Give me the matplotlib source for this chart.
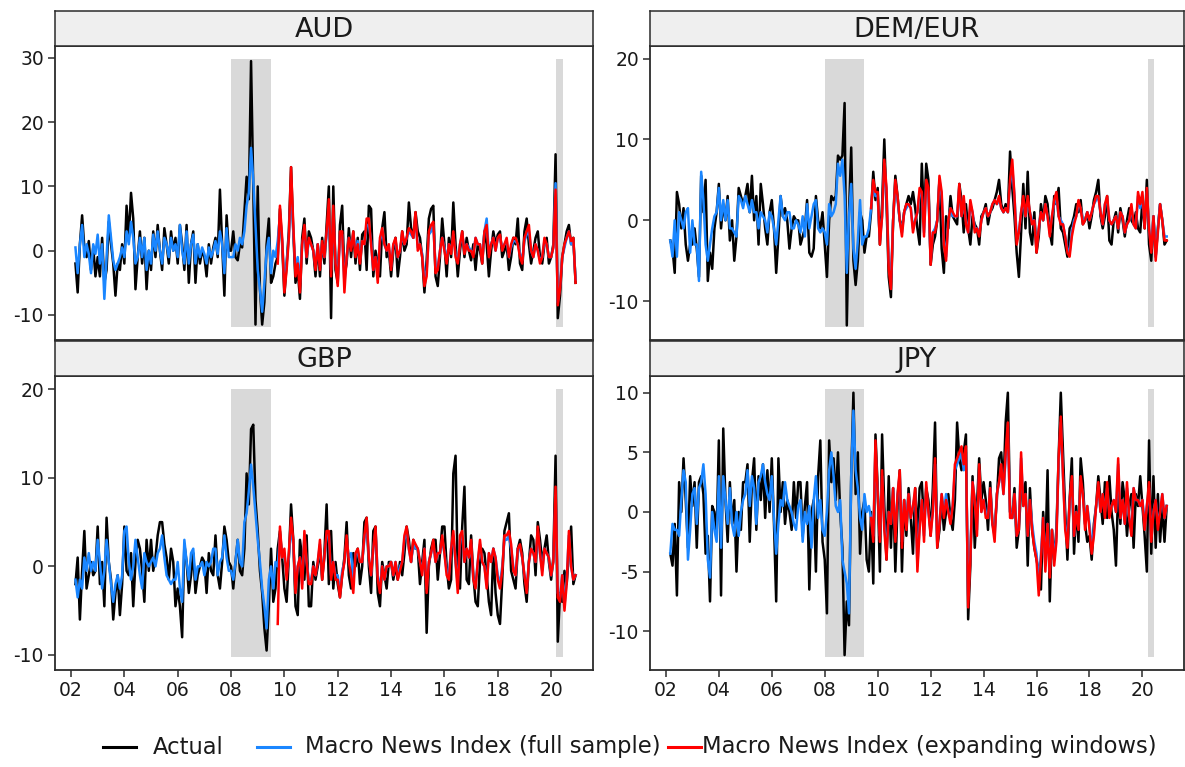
import numpy as np
import pandas as pd
import matplotlib
matplotlib.use("Agg")
import matplotlib.pyplot as plt
from matplotlib.lines import Line2D

plt.rcParams["font.family"] = ["DejaVu Sans"]
plt.rcParams["axes.unicode_minus"] = False

# monthly observations, Mar 2002 - Dec 2020
dates = pd.date_range("2002-03-01", "2020-12-01", freq="MS")
years = np.asarray(dates.year + (dates.month - 1) / 12.0)
exp_from = int(np.where(dates == pd.Timestamp("2009-10-01"))[0][0])

# recession bands (decimal years)
recessions = [(2008.0, 2009.5), (2020.2, 2020.45)]

# ---- AUD ----
aud_actual = [
    -2, -6.5, 1, 5.5, 0.5, -1, 1.5, -3, 0.5, -4,
    -1, -4, 2, -5, -3, 4.5, 1, -2, -7, -2, -3, 1,
    -2, 7, 2, 9, 5, -6, -1, 3, -2, 2, -6, 0,
    -3, 3, -1, 4, 0, -3, 3.5, 1, -2, 3, 0, 2,
    -2, 4, 1, -3, 4, -5, 1, 3, -5, 1, -2, 0,
    -1, -4, 1, -2, 0.5, 2, -1, 9.5, 1, -7, 5.5, 0,
    0, 3, -1, -1.5, 1, 0.5, 6, 11.5, 8, 29.5, 10, -11.5,
    10, -6, -11.5, -8, 1, 5, -5, -4, -2, -1, 6.5, 1,
    -7, -2, 3, 13, 3, -5, -3, -7.5, 2, 5, -2, 3,
    2, 0, -4, 1, -4, 2, -2, 4, 10, -10.5, 10, -3,
    -5, 4, 7, -4, -2, 3.5, -1, 3, -2, 2, -3, 2.5,
    3, -3, 7, 6.5, -4, 0, -2, -4, 3.5, 6, -1, 0,
    -4, 0, 2, -4, -1, 3, 0, 1, 7.5, 3.5, 2, 6,
    3, 2, -1, -6.5, -1.5, 5, 6.5, 7, -4, -5.5, -1, 5,
    1, -4, 2, -1, 7.5, 1, -4, 0, 3, -1, 2, 0,
    -1.5, 1, -3, 1, 0, -2, 3, 1, -4, 0, 3, 1,
    2.5, 3, -1, 0, 1, -3, -1, 2, 1, 5, -2, -3,
    3, 5, 1, -2, 0, 2, 3, -1, -2, 1, 2, -2,
    -1, 1, 15, -10.5, -7, -1, 1, 3, 4, 1, 2, -5,
]
aud_full = [
    0.5, -3.5, 1, 4, -1, 1, -0.5, -3.5, 1, -0.5,
    2.5, -2, 1, -7.5, -1, 5.5, 2, -1.5, -3, -2, -1, 0.5,
    -1, 3, 1, 4.5, 2, -2, -1, 2, -1, 2, -3, 0,
    -2, 2.5, 0, 3, 0, -2, 2, 1, -1, 2, 0, 1,
    -1, 4, 0, -2, 3, -2, 1, 2.5, -2, 1, -1, 0.5,
    -0.5, -2, 0.5, -1, 0, 1.5, -0.5, 3, 1, -3.5, 3.5, -1,
    -1, -1, 1, 0, 2, 1, 3, 7, 9, 16, 11, 4,
    -3, -6, -9.5, -5, 0, 2, -3.5, 0, -1, 1.5, 5.5, 1.5,
    -5, -2, 2, 10, 3, -3, -1, -5, 1, 3, -1, 1.5,
    1, 0, -2.5, 1, -2.5, 1, -1, 2.5, 6, -3, 5, -1.5,
    -4.5, 2.5, 2.5, -5, -1, 2, 0.5, 2.5, 0, 1.5, -1.5, 1.5,
    1, 4, 4, 1.5, -3, -1, -4, 1.5, 3, 1, 0, 0.5,
    -2.5, 1, 1.5, -1, 0, 2.5, 1, 2, 3, 2.5, 2, 5,
    0.5, 1, -0.5, -4.5, -3, 2.5, 3, 4, -2.5, -2.5, 0, 2,
    0.5, -1.5, 1, 0, 2.5, -0.5, -1.5, 1, 2.5, 0, 1, 0.5,
    0, -0.5, 2, 1, 1, -1.5, 3, 5, -0.5, 1, 2, 0,
    2, 2, 0.5, 1, 1.5, -1, 0.5, 1.5, 1.5, 1, -0.5, -1.5,
    1.5, 2.5, 3, 0, -1, 1, 0, -1.5, -1, 1.5, 1, -1,
    -1, 0.5, 10.5, -8, -5.5, -1, 0.5, 2, 3, 1, 1.5, -4.5,
]
aud_expanding = [
    -2, 7, 2,
    -6.5, -3, 2, 13, 4, -4, -2, -6.5, 1, 4, -1, 2,
    1, 0, -3, 1, -3, 1.5, -1, 3, 8, -4, 7, -2,
    -5.5, 3, 3, -6.5, -1, 2, 0, 3, -1, 1, -2, 1.5,
    1, 5, 5, 1, -3, -1, -5, 2, 3.5, 1, 0, 1,
    -3, 1, 2, -1, 0, 3, 1, 2, 3.5, 3, 2, 6,
    0, 1, -1, -5.5, -4, 3, 4, 4.5, -3.5, -3, 0, 2,
    0, -2, 1, -0.5, 3, -1, -2, 1, 3, -0.5, 1, 0,
    0, -1, 2, 1, 1, -2, 3, 4, -1, 1, 2, 0,
    2, 2.5, 0, 1, 2, -1, 1, 2, 2, 1, -1, -2,
    2, 3, 4, 0, -1, 1, 0, -2, -1, 2, 1, -1,
    -1, 0.5, 9.5, -8.5, -6, -1, 1, 2, 3, 1.5, 2, -5,
]

# ---- DEM/EUR ----
eur_actual = [
    -2.5, -3.5, -6.5, 3.5, 2, -1, 1.5, -3, -5, -3,
    -3, -1, -3.5, -7, 5.5, 1, 5, -7.5, -4, -6, -1, 1,
    4.5, -1, 2, 0, 3, -2.5, 0, -5, -2, 4, 3, 2,
    3, 4.5, 1, 5.5, 0, 3, -3, 4.5, 2, -1, -3, 1,
    2.5, -1, -6.5, -2, 3, 0.5, 1.5, 0, -3.5, -1, 0.5, 0,
    0, -3, -2, -1, 2.5, -4, -4.5, -3.5, 3, 0, -1, 1,
    -3, -7, 0, 3, 2.5, 3, 8, 7.5, 8, 14.5, -13, 1,
    9, -5, -8, -5, 1, 0, -4, -2, -2, 1, 6, 2.5,
    4, -3, 2, 10, 2, -7, -9.5, 0, 5.5, 3, 0, -1,
    1, 2, 3, 2, 3.5, 1.5, -1, -3, 7, 0, 7, 5,
    -5.5, -3, -2, 0, 5, -3.5, -6.5, 0.5, -1, 3, 0.5, 0,
    -0.5, 4.5, 2.5, -1.5, 2, -1, -3, 0.5, -0.5, -1, -3, 0.5,
    1, 2, -0.5, 1, 1.5, 2.5, 3.5, 5, 2, 1, 2, 1,
    8.5, 4, 0.5, -4, -7, -1.5, 4.5, -1, 6, -1.5, -3, 1,
    -4, -2, 2, 0, 3, 2, -1.5, -3, 3, 2, 4, -1,
    -1.5, -3, -4.5, -1, -0.5, 0.5, 2, 1, 2.5, -0.5, 0, 1,
    -1, 0.5, 2.5, 3.5, 5, 0.5, -1, 0.5, 3, -2.5, -3, 0,
    1, -1.5, 1.5, 0, -2, 0, 1.5, 0, -0.5, 1, -1, -1.5,
    2.5, -1, 5, -3, -5, 0.5, -4.5, -1, 2, 0, -3, -2.5,
]
eur_full = [
    -2.5, -4.5, 0, -4.5, 1, 0, -1, 1, 1.5, -4,
    0, -3, -3, -7.5, 6, 2.5, -3, -5, -3, -1, 0.5, 1,
    4, 0, 2.5, 0, 2.5, -1, -1, -1.5, -2, 3, 2.5, 1.5,
    3, 2, 1, 2.5, 1, 1, -1, 1, 0.5, 0, -1.5, 1,
    0.5, -1, -3, 0, 3, 0.5, 0, 1, 1, -1, -1, 0,
    -0.5, -1.5, 0.5, -2, 2, -1, 0.5, 2, 2.5, -1, -1.5, -1,
    -1.5, -3, 2, 0.5, 1, 2, 7, 5.5, 7.5, 3, -6.5, 0.5,
    4.5, -3.5, -6, -2.5, 2.5, -3, -2, -2, -1, 1.5, 4.5, 3,
    3, -2.5, 0.5, 7, 3.5, -5, -7.5, 0, 4.5, 2.5, 0, -1.5,
    1, 1.5, 2, 1.5, -1, 0, 1, 3.5, 3, -1.5, 4.5, 3.5,
    -5, -1.5, -1, 0, 5, 3, -2.5, -4.5, 0, 1.5, 0.5, 0.5,
    0.5, 4, 0.5, 2.5, 0, -1.5, 2, 1, -1, -1, -1.5, 0,
    1, 1.5, 0.5, 1, 2, 2.5, 2, 2.5, 1.5, 1, 1.5, 1,
    4.5, 6.5, 3, -2, -1.5, 1, 2.5, 0.5, 2.5, 1, 0, 0,
    -3.5, -1, 1, 0, 2, 0.5, -1.5, 0.5, 2, 3, 0.5, 0,
    -0.5, -2, -3.5, -4, -1.5, 0, 0.5, 2, 1.5, 0, 0, 1,
    0, 1, 2, 2.5, 3, 1, -0.5, 2, 2.5, 0, -0.5, 0,
    0.5, -1, 1, 0.5, -1.5, -0.5, 0, 1.5, -0.5, -1, 3, 1.5,
    3, -0.5, 3.5, -1, -3.5, 0.5, -4.5, -1, 2, 0, -2, -2,
]
eur_expanding = [
    1.5, 5, 3.5,
    3.5, -3, 0.5, 7.5, 4, -6, -8.5, 0, 5, 3, 0, -2,
    1, 2, 2, 1.5, -1.5, 0, 1, 4, 3.5, -2, 5, 4,
    -5.5, -1.5, -1.5, 0, 5.5, 3.5, -3, -5, 0, 1.5, 1, 0.5,
    0.5, 4.5, 0.5, 3, -0.5, -1.5, 2.5, 1, -1.5, -1, -2, 0,
    1, 1.5, 0.5, 1, 2, 2.5, 2, 3, 1.5, 1, 1.5, 1,
    5, 7.5, 3, -3, -1.5, 1, 3, 0.5, 3, 1, -0.5, 0,
    -4, -1, 1, 0, 2, 0.5, -2, 0.5, 2.5, 3.5, 0.5, -0.5,
    -0.5, -2, -4, -4.5, -2, -0.5, 0.5, 2.5, 1.5, -0.5, 0, 1,
    0, 1, 2, 3, 3, 1, -0.5, 2, 3, 0, -0.5, 0,
    0.5, -1, 1, 0.5, -1.5, -0.5, 0, 2, -0.5, -1, 3.5, 2,
    3.5, -1, 4, -1, -4, 0.5, -5, -1.5, 2, 0, -2.5, -2.5,
]

# ---- GBP ----
gbp_actual = [
    -2, 1, -6, -0.5, 4, -2.5, -1, 0.5, -1, -0.5,
    4.5, -2, 0.5, -4.5, 5.5, 0.5, -1.5, -6, -3, -1, -5.5, -2,
    4.5, -0.5, -1, 1.5, -4.5, 0.5, 3, 2, -0.5, -4, 3, -0.5,
    3, -0.5, 1, 3.5, 5, 5, 2.5, 1, -1.5, 2, 0.5, -4.5,
    -2.5, -4.5, -8, 2.5, 0.5, -3, -1, 1.5, -3, -1, 0, 1,
    0.5, -3, 1.5, -0.5, -1, 3.5, -1, -2.5, 0.5, 4.5, 3, 0.5,
    0, -2.5, 0.5, 3, -0.5, -1, 2, 10.5, 7, 15.5, 16, 7.5,
    4, -0.5, -3, -7, -9.5, -4.5, 2, -4, -2.5, 2, 4, 1,
    -2.5, -4, 1, 7, 3, -4.5, -5.5, 3, 1, -1.5, 3.5, -4.5,
    -4.5, 0.5, -1.5, 0, 2, -1.5, 1.5, 7, -2, 4, -2.5, 0.5,
    -2, -3.5, -1, 1, 5, -1, -2.5, 1.5, 0, 2, -2, 0,
    5, 5.5, 0, -3, 4, 4.5, -3, -4.5, 0.5, -1, -2.5, 0.5,
    0.5, -1.5, 0, -1.5, 0.5, -1, 1.5, 4.5, 3, 0.5, 3, 2,
    2, -2, 0.5, 3, -7.5, 0, 2, 3, 3, -1.5, 1.5, 4.5,
    4.5, 0, -2.5, -1.5, 10.5, 12.5, -1, -2.5, 4.5, 9, -1.5, -2,
    3.5, -1, -4, -4.5, 0.5, 2, 1.5, -1, -4, -5.5, 2, -3,
    -5.5, -6.5, -1.5, 4, 5, 6, -0.5, -1.5, -2.5, 2, 3, 1.5,
    -2, -4, 0.5, 3.5, 3, -1, 5, 3, 0.5, 2, 3.5, 0.5,
    -1.5, 1, 12.5, -8.5, -3, -4, -0.5, -2, 1.5, 4.5, -2, -1,
]
gbp_full = [
    -1.5, -3.5, -1.5, -2.5, 1, -0.5, 1.5, -0.5, 0.5, -0.5,
    3, 0.5, -2.5, -0.5, 3, 0.5, -2, -4, -2, -1, -2.5, -1,
    4, 4.5, 0.5, -1.5, 0, 3, 1, -1, -2.5, 1.5, 0.5, 0,
    0.5, 1, 0, 1.5, 2, 3.5, 1, -1, -1.5, -2, -1.5, -1.5,
    0.5, -2.5, -4, 3, 0.5, -1.5, 1.5, 2, -1.5, 0, 0, 0.5,
    -1, 0.5, 0, 0.5, 2, 2, -1, 0.5, 1, 3.5, 1, -0.5,
    -0.5, -1.5, 0.5, 3, 0.5, 0, 5, 6, 8.5, 11.5, 9, 6,
    3, 0.5, -2.5, -4.5, -7, -1.5, 0, -2.5, 0.5, 0, 3.5, 1,
    1.5, -1, 1, 4.5, 2.5, -2.5, 0, 1, -2, 3.5, 0.5, -1.5,
    -1.5, 0, -1, 0.5, 2.5, -1, 1, 3.5, 3.5, -1, 0.5, -1,
    -1, -3, -0.5, 0.5, 3, 1, 1.5, -1.5, 1.5, 1.5, 0.5, 0.5,
    3, 5, 1, -1, 2, 4, -1, -2.5, 0, -1.5, 0, 0,
    0.5, -1, 0.5, -1, 0, 0.5, 3, 4, 2, 0.5, 2.5, 2,
    2, 0.5, -0.5, 2, -2.5, 0.5, 1.5, 2.5, 0.5, 1.5, 1.5, 3,
    1.5, -0.5, -1, 2, 3.5, 0.5, -2, 3, 3.5, 0.5, 2, 1,
    2.5, -1.5, -2, 0.5, 2.5, 0.5, 0, -2, 1.5, 0.5, 2, 1,
    -1, -2, 0, 3, 3, 3.5, 2, 0, -1, 2, 2, 1,
    -1, -2.5, 0.5, 2, 1.5, 0.5, 4, 1.5, -0.5, 2, 1.5, 1,
    -1, 0.5, 8, -3, -3.5, -1, -4.5, -1.5, 3.5, 0, -1.5, -1,
]
gbp_expanding = [
    -6.5, 4.5, 1,
    2, -1.5, 1.5, 5.5, 3, -3, 0, 1, -2.5, 4, 0.5, -2,
    -2, 0, -1, 0.5, 3, -1.5, 1, 4, 4, -1.5, 0.5, -1.5,
    -1.5, -3.5, -1, 0.5, 3.5, 0.5, -1, -3, 1.5, 2, 0.5, 0.5,
    3.5, 5.5, 1, -1, 2, 4.5, -1.5, -3, 0, -1.5, 0, 0,
    0.5, -1, 0.5, -1.5, -0.5, 0.5, 3.5, 4.5, 2, 0.5, 3, 2.5,
    2, 0.5, -1, 2, -3, 0.5, 1.5, 3, 0.5, 1.5, 1.5, 3.5,
    1.5, -1, -1.5, 2, 4, 0.5, -3, 3.5, 4, 0.5, 2, 1,
    3, -1.5, -2.5, 0.5, 3, 0.5, 0, -2.5, 1.5, 0.5, 2, 1,
    -1.5, -2.5, -0.5, 3.5, 3.5, 4, 2.5, -0.5, -1, 2, 2.5, 1,
    -1, -3, 0.5, 2, 1.5, 0.5, 4.5, 1.5, -1, 2, 1.5, 1,
    -1, 0.5, 9, -3.5, -4, -1, -5, -2, 4, 0, -1.5, -1,
]

# ---- JPY ----
jpy_actual = [
    -3.5, -4.5, -1, -7, 2.5, 0, 4.5, 1, -3, 3,
    0.5, 2.5, -3, 2.5, 3, 1.5, -3.5, -2, -7.5, 0.5, 0, -2,
    6, -7, 7, 1, -2.5, 2.5, -1, 1, -5, 0, -1.5, 2.5,
    2.5, 4, -2.5, 2.5, 4.5, -1.5, 3, 1, 4, -0.5, 3.5, 0,
    4.5, -1, -7.5, 4.5, 0, 2.5, -1, 1, 0, -1.5, 2.5, -0.5,
    2.5, 2.5, -2, 0.5, 2.5, -6.5, 0, 1, -5, 3, 6, -2.5,
    -4, -8.5, 6, 2.5, 4.5, 1, 5, 0, -3, -12, -7.5, -9.5,
    3, 10, 1.5, 5, -3.5, 0, 1, -4, -5, 0, -6, 6.5,
    2, -5, 6.5, 0.5, -4, 3, -3, 2, -5, 0.5, 3.5, -5,
    1, -2, 2, -0.5, -3.5, 2, -2, 2, 2.5, -1, 2, 1,
    -2, 2, 7.5, -3, -1.5, 1, -1.5, 0, 1.5, -0.5, -1.5, 1,
    7.5, 4.5, 3.5, 5, 6.5, -9, -4.5, 3, -3, 0.5, 4.5, 1,
    2.5, 1, -1.5, 2.5, -1, -1.5, 1, 4.5, 5, 2, 7.5, 10,
    0, -0.5, 2, -3, -1.5, 2, 1.5, 2.5, -4.5, 2, -1.5, -3,
    -4, -5, -6.5, 0, -3.5, 3.5, -7.5, -1.5, -4, -1.5, 4.5, 10,
    5, 0, -4, 1, 4.5, -3.5, 0.5, -2.5, 4.5, 2.5, -1, -2.5,
    -2, -4, -1, 0.5, 3, 1, -1, 2.5, -0.5, 3, 0, -1.5,
    -4.5, 2, -1, 2.5, 1, -2, 0.5, 1.5, -3, 1.5, 0.5, 3,
    0.5, -2, -5, 6, -3.5, 3, -3, 1.5, -2.5, 0.5, -2.5, 0.5,
]
jpy_full = [
    -3.5, -1, -1.5, -1.5, -2, 1, 3.5, 2.5, -4, -1.5,
    1.5, 2, -1, 2, 2.5, 4, 1.5, -4, -5.5, 0, -1.5, -2.5,
    3, -3, 3, 1, -1, 2, -1, -2, 0, -2, 0, 1,
    1.5, 3.5, 0.5, 3, 2, -1, 2.5, 3, 4, 2.5, 1.5, 1,
    3, -0.5, -3.5, -1, 1, 0.5, 2.5, 1, 0.5, 0, -1, -1.5,
    0.5, 1, -2.5, 0, -1, 0.5, -3, 1, 3, -0.5, 1, -1.5,
    -2, 0, 3.5, 5, 3, 0.5, 0, 1, -4, -5, -6, -8.5,
    3, 8.5, 3.5, 2, -0.5, -1.5, 1.5, 0, 0.5, -0.5, -2, 5,
    1.5, -2, 3, -1, -3.5, 0, -1, 2, -2, 1.5, 3, -2.5,
    1, -1, 1.5, -0.5, 0.5, 1.5, -4.5, -1, 1, -2, 2, 0,
    -1.5, 0, 4, -2.5, -1, 1.5, 0, 1.5, 0, -0.5, 0.5, 3.5,
    4, 4.5, 5, 3.5, 5, -7, -3.5, 2.5, 1, -1.5, 3.5, 0,
    1, 0, -0.5, 2, -1, -2, 1.5, 2.5, 3.5, 1.5, 4.5, 7,
    0, -0.5, 1.5, -2, -1, 4.5, 0.5, 1.5, -2, 1, -1, -2.5,
    -3.5, -6, -3.5, -0.5, -4.5, -1, -5, -1.5, -4, -2, 4, 7.5,
    3, -1, -2.5, 1, 2.5, -2, 0, -1, 2.5, 1.5, -1, 0.5,
    -1, -3, -1.5, 0.5, 2, 0, 1.5, 0, 2, 0, 0.5, 1,
    0, 4, -0.5, 1, -1, 2, -0.5, -1.5, 2, 1, 1, 0.5,
    1, -1, 0.5, 2, -2, 0, 1, -1, 0, 1.5, -0.5, 0.5,
]
jpy_expanding = [
    -0.5, -2.5, 6,
    1.5, -2.5, 3.5, -1.5, -4, 0, -1, 2, -2.5, 1.5, 3.5, -3,
    1, -1.5, 1.5, -0.5, 0.5, 2, -5, -1.5, 1, -2.5, 2.5, 0,
    -2, 0, 4.5, -3, -1, 1.5, -0.5, 1, 0, -1, 0.5, 4,
    4.5, 5, 5.5, 4, 5.5, -8, -4, 2.5, 1, -2, 4, 0,
    1, -0.5, -0.5, 2, -1, -2.5, 1.5, 2.5, 4, 1.5, 5, 7.5,
    -0.5, -0.5, 1.5, -2, -1.5, 5, 0.5, 1.5, -2, 1, -1.5, -3,
    -4, -7, -4, -0.5, -5, -1, -5.5, -1.5, -4.5, -2.5, 4.5, 8,
    3, -1.5, -3, 1, 3, -2, 0, -1.5, 3, 1.5, -1.5, 0.5,
    -1.5, -3.5, -2, 0.5, 2.5, 0, 1.5, -0.5, 2.5, -0.5, 0.5, 1,
    0, 4.5, -0.5, 1, -1, 2.5, -0.5, -2, 2, 1, 1, 0.5,
    1, -1.5, 0.5, 2.5, -2.5, 0, 1, -1.5, 0, 1.5, -0.5, 0.5,
]

panel_names = ["AUD", "DEM/EUR", "GBP", "JPY"]
actual_series = [aud_actual, eur_actual, gbp_actual, jpy_actual]
full_series = [aud_full, eur_full, gbp_full, jpy_full]
expanding_series = [aud_expanding, eur_expanding, gbp_expanding, jpy_expanding]
y_limits = [(-13.9, 31.85), (-14.8, 21.55), (-11.7, 21.5), (-13.25, 11.4)]
y_ticks = [[-10, 0, 10, 20, 30], [-10, 0, 10, 20], [-10, 0, 10, 20], [-10, -5, 0, 5, 10]]
x_ticks = list(range(2002, 2021, 2))
x_labels = ["%02d" % (y % 100) for y in x_ticks]

c_actual = "black"
c_full = "#1a86ff"
c_exp = "#ff0000"
frame_col = "#2b2b2b"

fig = plt.figure(figsize=(11.85, 7.67), dpi=100)

W, H = 1185.0, 767.0
# pixel boxes: (left, right) columns and (top, bottom) rows
cols = [(55, 593), (650, 1184)]
rows = [(46, 340), (376, 670)]
strip_h = 35

for i, name in enumerate(panel_names):
    r, c = divmod(i, 2)
    x0, x1 = cols[c]
    y0, y1 = rows[r]
    ax = fig.add_axes([x0 / W, 1 - y1 / H, (x1 - x0) / W, (y1 - y0) / H])
    sx = fig.add_axes([x0 / W, 1 - y0 / H, (x1 - x0) / W, strip_h / H])

    for a, b in recessions:
        ax.axvspan(a, b, ymin=0.045, ymax=0.955, color="#d9d9d9", lw=0, zorder=0)

    ax.plot(years, actual_series[i], color=c_actual, lw=1.8, zorder=2)
    ax.plot(years, full_series[i], color=c_full, lw=1.8, zorder=3)
    ax.plot(years[exp_from:], expanding_series[i], color=c_exp, lw=1.8, zorder=4)

    ax.set_xlim(2001.4, 2021.57)
    ax.set_ylim(*y_limits[i])
    ax.set_yticks(y_ticks[i])
    ax.set_yticklabels([str(t) for t in y_ticks[i]])
    ax.set_xticks(x_ticks)
    ax.set_xticklabels(x_labels)
    ax.tick_params(direction="out", length=5, width=1.1, color=frame_col,
                   labelsize=13.5, labelcolor="#1a1a1a", pad=3)
    if r == 0:
        ax.tick_params(axis="x", bottom=False, labelbottom=False)
    for sp in ax.spines.values():
        sp.set_color(frame_col)
        sp.set_linewidth(1.3)

    sx.set_facecolor("#efefef")
    sx.set_xticks([])
    sx.set_yticks([])
    for sp in sx.spines.values():
        sp.set_color(frame_col)
        sp.set_linewidth(1.1)
    sx.text(0.5, 0.47, name, ha="center", va="center", fontsize=19.5,
            color="#1a1a1a", transform=sx.transAxes)

# legend row along the bottom, placed in pixel units: (label, colour, key x, text x)
legend_items = [
    ("Actual", c_actual, 103, 153),
    ("Macro News Index (full sample)", c_full, 257, 305),
    ("Macro News Index (expanding windows)", c_exp, 668, 702),
]
ly = 1 - 747 / H
for label, col, kx, tx in legend_items:
    fig.add_artist(Line2D([kx / W, (kx + 33) / W], [ly, ly], color=col, lw=2.2,
                          transform=fig.transFigure))
    fig.text(tx / W, ly, label, ha="left", va="center", fontsize=16.3,
             color="#1a1a1a")

fig.savefig("out.png", dpi=100)
